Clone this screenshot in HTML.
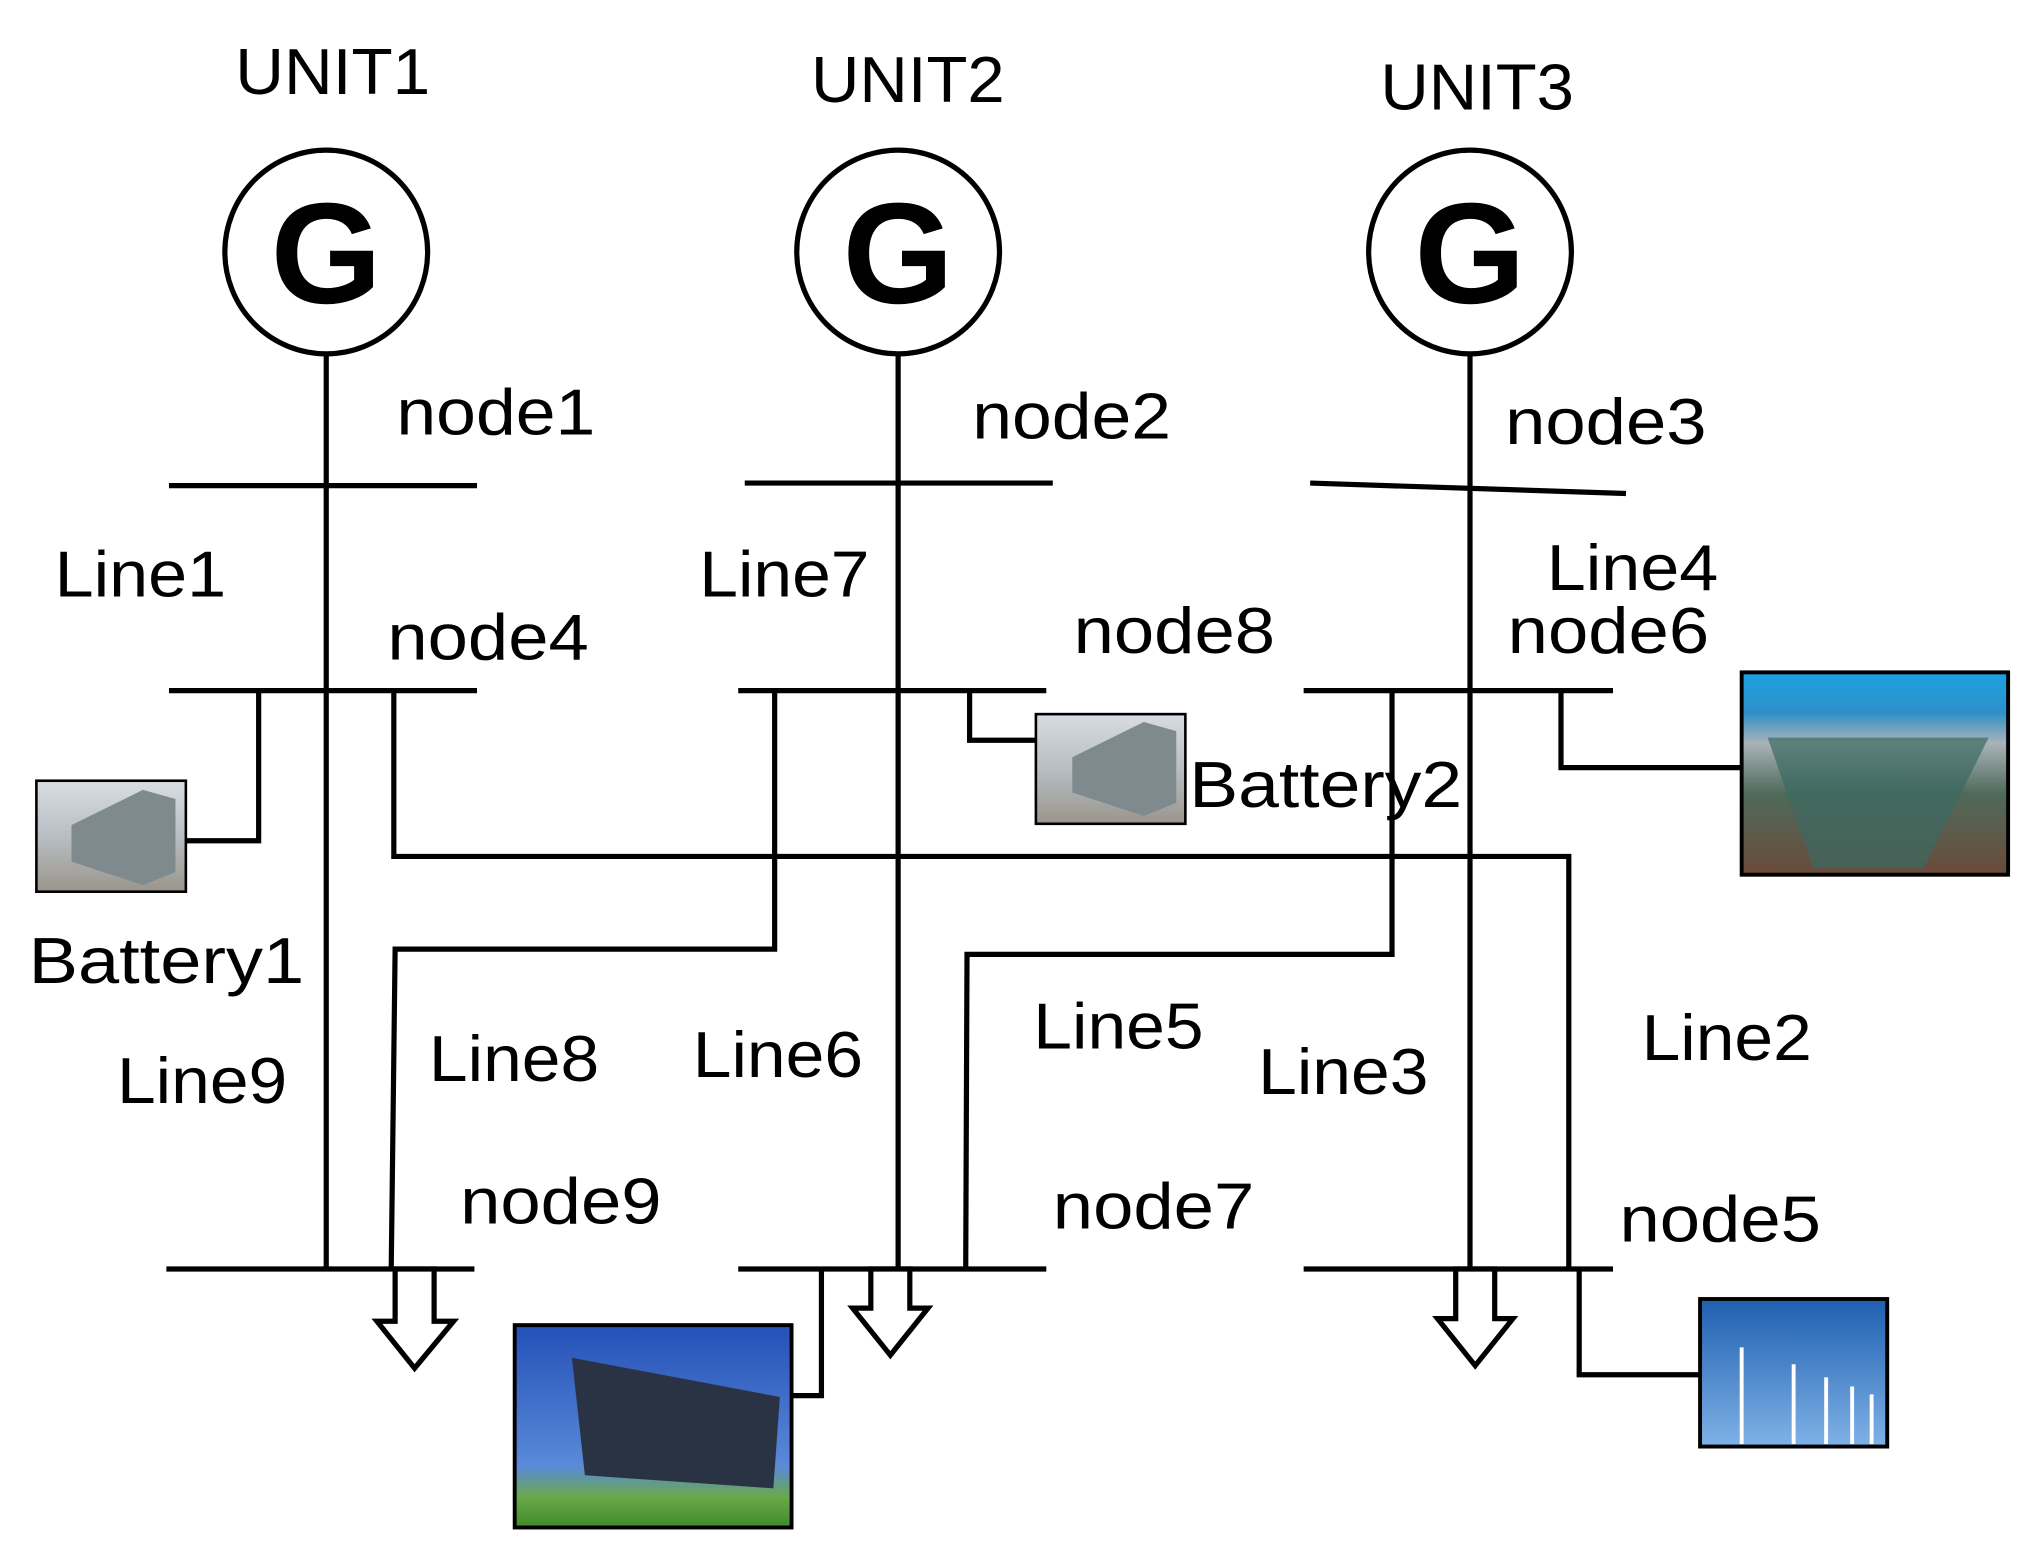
<!DOCTYPE html>
<html><head><meta charset="utf-8"><style>html,body{margin:0;padding:0;background:#fff}svg{display:block}</style></head>
<body>
<svg width="2038" height="1551" viewBox="0 0 1568 1188" preserveAspectRatio="none" xmlns="http://www.w3.org/2000/svg">
<defs>
<linearGradient id="sky" x1="0" y1="0" x2="0" y2="1"><stop offset="0" stop-color="#d8dde2"/><stop offset="0.5" stop-color="#b8bec4"/><stop offset="1" stop-color="#9a958c"/></linearGradient>
<linearGradient id="res" x1="0" y1="0" x2="0" y2="1"><stop offset="0" stop-color="#1aa3e0"/><stop offset="0.2" stop-color="#2f8fc8"/><stop offset="0.35" stop-color="#a9b3b8"/><stop offset="0.6" stop-color="#4f6a5a"/><stop offset="1" stop-color="#6a4a3a"/></linearGradient>
<linearGradient id="solar" x1="0" y1="0" x2="0" y2="1"><stop offset="0" stop-color="#2450b8"/><stop offset="0.7" stop-color="#5a8ad8"/><stop offset="0.85" stop-color="#6aa84a"/><stop offset="1" stop-color="#3f8a2a"/></linearGradient>
<linearGradient id="wind" x1="0" y1="0" x2="0" y2="1"><stop offset="0" stop-color="#1f5fb0"/><stop offset="1" stop-color="#7fb2e6"/></linearGradient>
</defs>
<g fill="none" stroke="#000" stroke-width="4">
<circle cx="251" cy="193" r="78"/><circle cx="691" cy="193" r="78"/><circle cx="1131" cy="193" r="78"/>
<line x1="251" y1="271" x2="251" y2="972"/><line x1="691" y1="271" x2="691" y2="972"/><line x1="1131" y1="271" x2="1131" y2="972"/>
<line x1="130" y1="372" x2="367" y2="372"/><line x1="573" y1="370" x2="810" y2="370"/><line x1="1008" y1="370" x2="1251" y2="378"/>
<line x1="130" y1="529" x2="367" y2="529"/><line x1="568" y1="529" x2="805" y2="529"/><line x1="1003" y1="529" x2="1241" y2="529"/>
<line x1="128" y1="972" x2="365" y2="972"/><line x1="568" y1="972" x2="805" y2="972"/><line x1="1003" y1="972" x2="1241" y2="972"/>
<polyline points="199,529 199,644 143,644"/>
<polyline points="303,529 303,656 1207,656 1207,972"/>
<polyline points="596,529 596,727 304,727 301,972"/>
<polyline points="1071,529 1071,731 744,731 743,972"/>
<polyline points="746,529 746,567 797,567"/>
<polyline points="1201,529 1201,588 1340,588"/>
<polyline points="632,972 632,1069 609,1069"/>
<polyline points="1215,972 1215,1053 1308,1053"/>
<polygon points="304,972 334,972 334,1012 349,1012 319,1048 290,1012 304,1012" fill="#fff"/>
<polygon points="670,972 700,972 700,1002 714,1002 685,1038 656,1002 670,1002" fill="#fff"/>
<polygon points="1120,972 1150,972 1150,1010 1164,1010 1135,1046 1106,1010 1120,1010" fill="#fff"/>
</g>
<!-- images -->
<rect x="28" y="598" width="115" height="85" fill="url(#sky)" stroke="#000" stroke-width="2"/>
<polygon points="55,632 110,605 135,612 135,668 110,678 55,660" fill="#7e8a8e"/>
<rect x="797" y="547" width="115" height="84" fill="url(#sky)" stroke="#000" stroke-width="2"/>
<polygon points="825,580 880,553 905,560 905,615 880,625 825,607" fill="#7e8a8e"/>
<rect x="1340" y="515" width="205" height="155" fill="url(#res)" stroke="#000" stroke-width="3"/>
<polygon points="1360,565 1530,565 1480,665 1395,665" fill="#3c6a62" opacity="0.7"/>
<rect x="396" y="1015" width="213" height="155" fill="url(#solar)" stroke="#000" stroke-width="3"/>
<polygon points="440,1040 600,1070 595,1140 450,1130" fill="#2a3344"/>
<rect x="1308" y="995" width="144" height="113" fill="url(#wind)" stroke="#000" stroke-width="3"/>
<g stroke="#fff" stroke-width="3"><line x1="1340" y1="1032" x2="1340" y2="1106"/><line x1="1380" y1="1045" x2="1380" y2="1106"/><line x1="1405" y1="1055" x2="1405" y2="1106"/><line x1="1425" y1="1062" x2="1425" y2="1106"/><line x1="1440" y1="1068" x2="1440" y2="1106"/></g>
<!-- text -->
<g font-family="Liberation Sans, sans-serif" font-size="50" fill="#000" lengthAdjust="spacingAndGlyphs">
<text x="181" y="72" textLength="150" lengthAdjust="spacingAndGlyphs">UNIT1</text>
<text x="624" y="78" textLength="149" lengthAdjust="spacingAndGlyphs">UNIT2</text>
<text x="1062" y="84" textLength="149" lengthAdjust="spacingAndGlyphs">UNIT3</text>
<text x="305" y="333" textLength="153" lengthAdjust="spacingAndGlyphs">node1</text>
<text x="748" y="336" textLength="153" lengthAdjust="spacingAndGlyphs">node2</text>
<text x="1158" y="340" textLength="155" lengthAdjust="spacingAndGlyphs">node3</text>
<text x="42" y="457" textLength="132" lengthAdjust="spacingAndGlyphs">Line1</text>
<text x="538" y="457" textLength="131" lengthAdjust="spacingAndGlyphs">Line7</text>
<text x="1190" y="452" textLength="132" lengthAdjust="spacingAndGlyphs">Line4</text>
<text x="1160" y="500" textLength="155" lengthAdjust="spacingAndGlyphs">node6</text>
<text x="298" y="505" textLength="155" lengthAdjust="spacingAndGlyphs">node4</text>
<text x="826" y="500" textLength="155" lengthAdjust="spacingAndGlyphs">node8</text>
<text x="915" y="618" textLength="210" lengthAdjust="spacingAndGlyphs">Battery2</text>
<text x="22" y="753" textLength="212" lengthAdjust="spacingAndGlyphs">Battery1</text>
<text x="90" y="845" textLength="131" lengthAdjust="spacingAndGlyphs">Line9</text>
<text x="330" y="828" textLength="131" lengthAdjust="spacingAndGlyphs">Line8</text>
<text x="533" y="825" textLength="131" lengthAdjust="spacingAndGlyphs">Line6</text>
<text x="795" y="803" textLength="131" lengthAdjust="spacingAndGlyphs">Line5</text>
<text x="968" y="838" textLength="131" lengthAdjust="spacingAndGlyphs">Line3</text>
<text x="1263" y="812" textLength="131" lengthAdjust="spacingAndGlyphs">Line2</text>
<text x="354" y="937" textLength="155" lengthAdjust="spacingAndGlyphs">node9</text>
<text x="810" y="941" textLength="155" lengthAdjust="spacingAndGlyphs">node7</text>
<text x="1246" y="951" textLength="155" lengthAdjust="spacingAndGlyphs">node5</text>
</g>
<g font-family="Liberation Sans, sans-serif" font-size="110" font-weight="bold" fill="#000" text-anchor="middle">
<text x="251" y="232">G</text><text x="691" y="232">G</text><text x="1131" y="232">G</text>
</g>
</svg>
</body></html>
